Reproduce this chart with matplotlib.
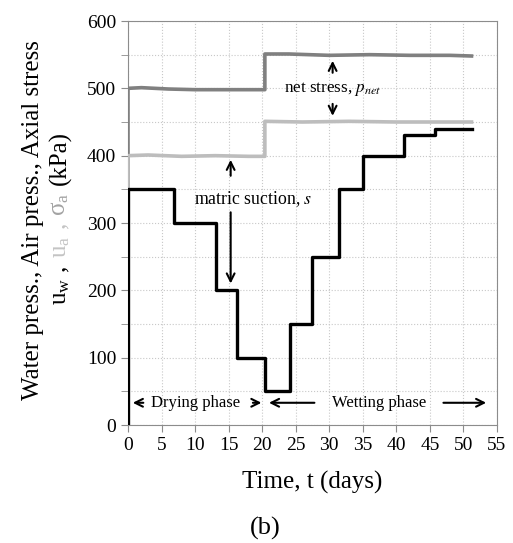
import matplotlib
matplotlib.use('Agg')
from matplotlib import pyplot as plt
from matplotlib.ticker import MultipleLocator

# data
t_water = [0, 0, 6.9, 6.9, 13.1, 13.1, 16.3, 16.3, 20.4, 20.4, 24.2, 24.2,
           27.4, 27.4, 31.4, 31.4, 35.0, 35.0, 41.2, 41.2, 45.8, 45.8, 51.2]
u_water = [0, 350, 350, 300, 300, 200, 200, 100, 100, 50, 50, 150,
           150, 250, 250, 350, 350, 400, 400, 430, 430, 440, 440]

t_air = [0, 0, 3, 8, 13, 18, 20.4, 20.4, 26, 33, 40, 46, 51.2]
u_air = [0, 400, 401, 399, 400, 399, 399, 451, 450, 451, 450, 450, 450]

t_axial = [0, 0, 2, 6, 10, 15, 20.4, 20.4, 24, 30, 36, 42, 48, 51.2]
s_axial = [0, 500, 501, 499, 498, 498, 498, 551, 551, 549, 550, 549, 549, 548]

x_ticks = list(range(0, 60, 5))

plt.rcParams['font.family'] = ['Liberation Serif', 'DejaVu Serif']
plt.rcParams['mathtext.fontset'] = 'stix'

fig = plt.figure(figsize=(5.13, 5.43), dpi=100)
ax = fig.add_axes([128 / 513, 1 - 425 / 543, 369 / 513, 404 / 543])

ax.plot(t_axial, s_axial, color='#808080', lw=2.6, zorder=3)
ax.plot(t_air, u_air, color='#bdbdbd', lw=2.6, zorder=4)
ax.plot(t_water, u_water, color='black', lw=2.4, zorder=5)

ax.set_xlim(0, 55)
ax.set_ylim(0, 600)
ax.set_xticks(x_ticks)
ax.yaxis.set_major_locator(MultipleLocator(100))
ax.yaxis.set_minor_locator(MultipleLocator(50))
ax.grid(True, which='both', color='#c8c8c8', ls=':', lw=0.8)
for s in ax.spines.values():
    s.set_color('#8c8c8c')
ax.tick_params(which='both', direction='out', color='#8c8c8c', labelsize=14, length=5)
ax.set_xlabel('Time, t (days)', fontsize=18, labelpad=12)

# annotations
arr = dict(arrowstyle='->', color='black', lw=1.5, mutation_scale=14)
ax.text(18.7, 335, 'matric suction, $\\it{s}$', fontsize=12.8, ha='center', va='center')
ax.annotate('', xy=(15.3, 398), xytext=(15.3, 366), arrowprops=arr)
ax.annotate('', xy=(15.3, 206), xytext=(15.3, 320), arrowprops=arr)

ax.text(30.5, 499, 'net stress, $\\it{p}_{\\it{net}}$', fontsize=12.3, ha='center', va='center')
ax.annotate('', xy=(30.5, 545), xytext=(30.5, 519), arrowprops=arr)
ax.annotate('', xy=(30.5, 455), xytext=(30.5, 481), arrowprops=arr)

ax.text(10.1, 33, 'Drying phase', fontsize=12, ha='center', va='center')
ax.annotate('', xy=(0.3, 33), xytext=(2.7, 33), arrowprops=arr)
ax.annotate('', xy=(20.3, 33), xytext=(18.2, 33), arrowprops=arr)
ax.text(37.4, 33, 'Wetting phase', fontsize=12, ha='center', va='center')
ax.annotate('', xy=(20.6, 33), xytext=(28.2, 33), arrowprops=arr)
ax.annotate('', xy=(53.8, 33), xytext=(46.6, 33), arrowprops=arr)

fig.text(265 / 513, 1 - 528 / 543, '(b)', fontsize=19, ha='center', va='center')


def stack_rotated(pieces, x_px, yc_px, size):
    # place rotated text pieces one after another, centred on yc_px
    fig.canvas.draw()
    renderer = fig.canvas.get_renderer()
    texts = []
    total = 0
    for txt, col in pieces:
        t = fig.text(0, 0, txt, fontsize=size, color=col, rotation=90,
                     rotation_mode='anchor', ha='left', va='baseline')
        total += t.get_window_extent(renderer).height
        texts.append(t)
    y_px = yc_px + total / 2
    for t in texts:
        t.set_position((x_px / 513, 1 - y_px / 543))
        y_px -= t.get_window_extent(renderer).height


# y label, two lines, second one coloured per variable
stack_rotated([('Water press., Air press., Axial stress', 'black')], 39, 220, 18)
stack_rotated([('u$_\\mathregular{w}$ ,  ', 'black'),
               ('u$_\\mathregular{a}$ ,  ', '#c4c4c4'),
               ('σ$_\\mathregular{a}$  ', '#a3a3a3'),
               ('(kPa)', 'black')], 66, 218, 18)

fig.savefig('out.png', dpi=100)
